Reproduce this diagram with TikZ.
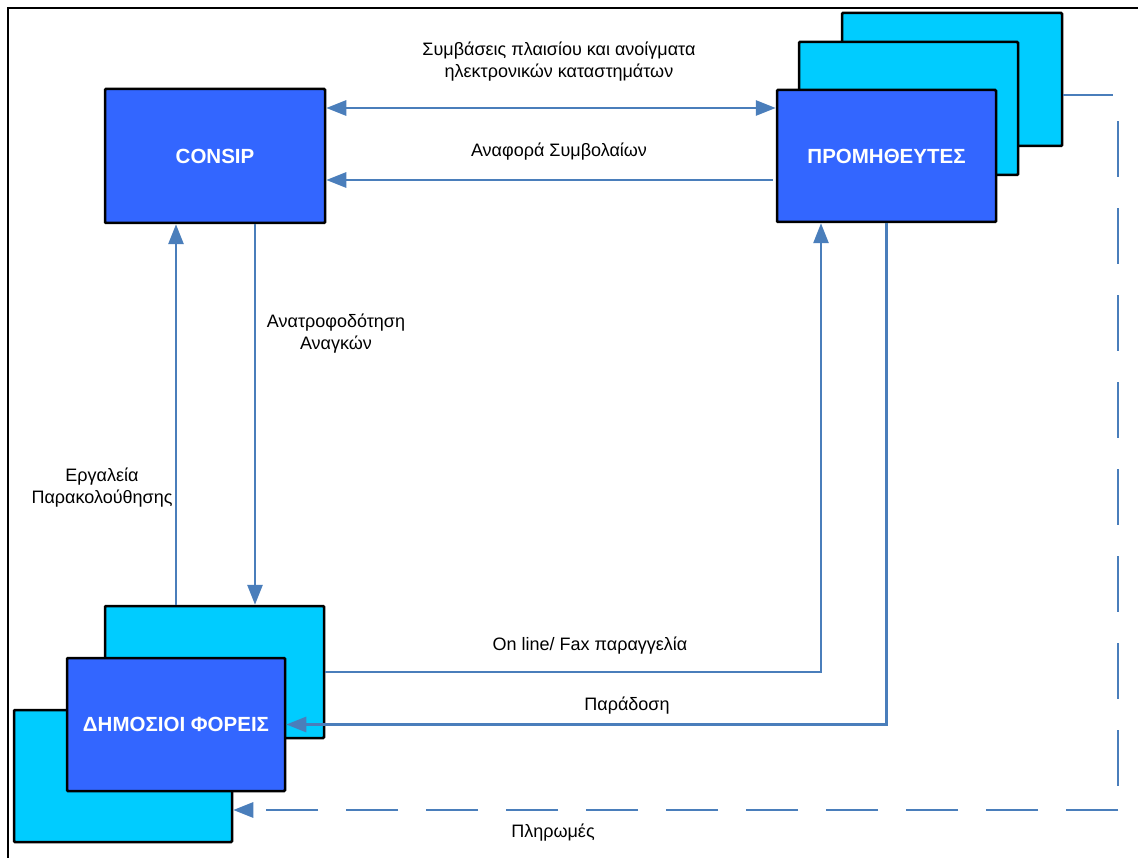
\documentclass[tikz,border=0pt]{standalone}
\usepackage{fontspec}
\setmainfont{Liberation Sans}
\usetikzlibrary{arrows.meta}
\definecolor{darkb}{HTML}{3366FF}
\definecolor{lightb}{HTML}{00CCFF}
\definecolor{linkc}{HTML}{4A7EBB}
\tikzset{
  box/.style={draw=black, line width=2.5pt, rounded corners=1pt, inner sep=0pt},
  darkbox/.style={box, fill=darkb, text=white, font=\fontsize{20.5}{24}\selectfont\bfseries},
  lightbox/.style={box, fill=lightb},
  link/.style={draw=linkc, line width=2.8pt, arrows={-Triangle[length=20pt,width=15pt]}},
  payvert/.style={draw=linkc, line width=2.8pt, dash pattern=on 56pt off 31pt, dash phase=6pt},
  paylink/.style={link, dash pattern=on 52pt off 28pt},
  lbl/.style={font=\fontsize{18}{22}\selectfont, align=center, inner sep=0pt, text=black}
}
\begin{document}
\begin{tikzpicture}[x=1pt,y=-1pt]
\useasboundingbox (0,0) rectangle (1138,858);
\fill[white] (0,0) rectangle (1138,858);
% frame
\draw[black, line width=2pt] (1138,8) -- (8,8) -- (8,858);
% suppliers stack
\node[lightbox, minimum width=220pt, minimum height=133pt] (supC) at (952,79.5) {};
\node[lightbox, minimum width=219pt, minimum height=133pt] (supB) at (908.5,108.5) {};
\node[darkbox, minimum width=219pt, minimum height=132pt] (sup) at (886.5,156) {ΠΡΟΜΗΘΕΥΤΕΣ};
% consip
\node[darkbox, minimum width=220pt, minimum height=134pt] (consip) at (215,156) {CONSIP};
% public bodies stack
\node[lightbox, minimum width=218pt, minimum height=132pt] (pubC) at (123,776) {};
\node[lightbox, minimum width=219pt, minimum height=132pt] (pubB) at (214.5,672) {};
\node[darkbox, minimum width=218pt, minimum height=133pt] (pub) at (176,724.5) {ΔΗΜΟΣΙΟΙ ΦΟΡΕΙΣ};
% connectors
\draw[link, arrows={Triangle[length=20pt,width=15pt]-Triangle[length=20pt,width=15pt]}]
  ([yshift=48pt]consip.east) -- ([yshift=48pt]sup.west);
\draw[link] ([yshift=-24pt,xshift=-3pt]sup.west) -- ([yshift=-24pt]consip.east);
\draw[link] ([xshift=-38.5pt]pubB.north) -- ([xshift=-38.5pt]pubB.north |- consip.south);
\draw[link] ([xshift=40pt]consip.south) -- ([xshift=40pt]consip.south |- pubB.north);
\draw[link] (pubB.east) -| ([xshift=-65.5pt]sup.south);
\draw[link] (sup.south) |- (pub.east);
\coordinate (paycorner) at (1118,810);
\draw[payvert] ([yshift=-15.5pt]supC.east) -| (paycorner);
\draw[paylink] (paycorner) -- ([yshift=-34pt]pubC.east);
% labels
\node[lbl] (l1) at (559,62) {Συμβάσεις πλαισίου και ανοίγματα\\ηλεκτρονικών καταστημάτων};
\node[lbl] (l2) at (559,152) {Αναφορά Συμβολαίων};
\node[lbl] (l3) at (336,334) {Ανατροφοδότηση\\Αναγκών};
\node[lbl] (l4) at (102,488) {Εργαλεία\\Παρακολούθησης};
\node[lbl] (l5) at (590,646) {On line/ Fax παραγγελία};
\node[lbl] (l6) at (627,706) {Παράδοση};
\node[lbl] (l7) at (553,833) {Πληρωμές};
\end{tikzpicture}
\end{document}
